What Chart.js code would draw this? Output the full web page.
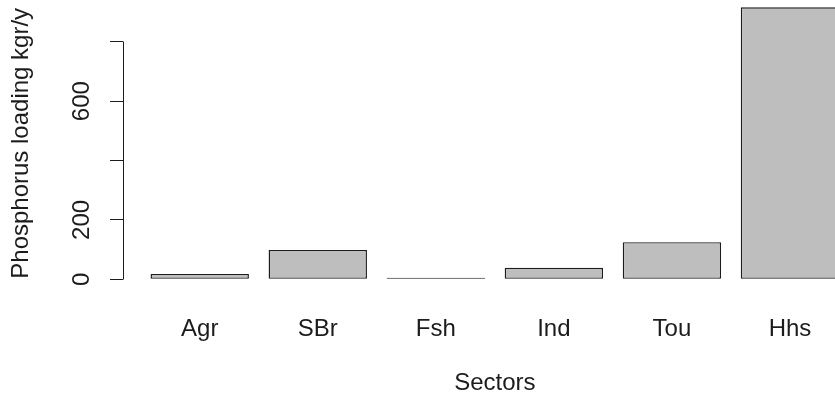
<!DOCTYPE html>
<html>
<head>
<meta charset="utf-8">
<script src="https://cdn.jsdelivr.net/npm/chart.js@4/dist/chart.umd.min.js"></script>
<style>
  html, body { margin: 0; padding: 0; background: #fff; overflow: hidden; width: 835px; height: 398px; }
  #wrap { position: absolute; left: 0; top: -10px; }
</style>
</head>
<body>
<div id="wrap"><canvas id="c" width="900" height="408"></canvas></div>
<script>
// Phosphorus loading per sector (kg/y)
const categories = ['Agr', 'SBr', 'Fsh', 'Ind', 'Tou', 'Hhs'];
const loadings = [18, 99, 5, 39, 125, 916];
const yTicks = [0, 200, 400, 600, 800];
const yTickLabels = ['0', '200', '', '600', ''];

// barplot-style geometry: unit-width bars separated by 0.2, 4% padding on each range
const barWidth = 1, barSpace = 0.2;
const centers = categories.map((_, i) => barSpace + barWidth / 2 + i * (barWidth + barSpace));
const xLo = barSpace, xHi = categories.length * (barWidth + barSpace);
const xPad = 0.04 * (xHi - xLo);
const yMax = Math.max(...loadings);
const yPad = 0.04 * yMax;

const FONT = { family: '"Liberation Sans", Arial, Helvetica, sans-serif', size: 24 };
const INK = '#1c1c1c';

// vertical axis line spanning only the tick range
const axisLine = {
  id: 'axisLine',
  afterDraw(chart) {
    const s = chart.scales.y;
    const ctx = chart.ctx;
    const x = Math.round(s.right - 0.5) + 0.5;
    const y0 = Math.round(s.getPixelForValue(yTicks[0]) - 0.5) + 0.5;
    const y1 = Math.round(s.getPixelForValue(yTicks[yTicks.length - 1]) - 0.5) + 0.5;
    ctx.save();
    ctx.strokeStyle = INK;
    ctx.lineWidth = 1;
    ctx.beginPath();
    ctx.moveTo(x, y0);
    ctx.lineTo(x, y1);
    ctx.stroke();
    ctx.restore();
  }
};

new Chart(document.getElementById('c'), {
  type: 'bar',
  data: {
    datasets: [{
      data: loadings.map((v, i) => ({ x: centers[i], y: v })),
      backgroundColor: '#bebebe',
      borderColor: INK,
      borderWidth: 1.4,
      borderSkipped: false,
      categoryPercentage: 1,
      barPercentage: barWidth / (barWidth + barSpace)
    }]
  },
  options: {
    responsive: false,
    animation: false,
    devicePixelRatio: 1,
    layout: { padding: { left: 0, top: 6.4, right: 33.3, bottom: 0 } },
    plugins: { legend: { display: false }, tooltip: { enabled: false } },
    scales: {
      x: {
        type: 'linear',
        offset: false,
        min: xLo - xPad,
        max: xHi + xPad,
        grid: { display: false },
        border: { display: false },
        afterBuildTicks: s => { s.ticks = centers.map(v => ({ value: v })); },
        afterFit: s => { s.height = 107.8; s.paddingLeft = 0; s.paddingRight = 0; },
        ticks: {
          autoSkip: false, minRotation: 0, maxRotation: 0, padding: 17,
          color: INK, font: FONT,
          callback: (v, i) => categories[i]
        },
        title: { display: true, text: 'Sectors', color: INK, font: FONT, padding: { top: 0, bottom: 0 } }
      },
      y: {
        min: -yPad,
        max: yMax + yPad,
        afterBuildTicks: s => { s.ticks = yTicks.map(v => ({ value: v })); },
        afterFit: s => { s.width = 123; s.paddingTop = 0; s.paddingBottom = 0; },
        grid: { drawOnChartArea: false, drawTicks: true, tickLength: 13, color: INK, lineWidth: 1 },
        border: { display: false },
        ticks: {
          autoSkip: false, minRotation: 90, maxRotation: 90, crossAlign: 'center', padding: 8,
          color: INK, font: FONT,
          callback: (v, i) => yTickLabels[i]
        },
        title: { display: true, text: 'Phosphorus loading kgr/y', color: INK, font: FONT, padding: { top: 7, bottom: 0 } }
      }
    }
  },
  plugins: [axisLine]
});
</script>
</body>
</html>
